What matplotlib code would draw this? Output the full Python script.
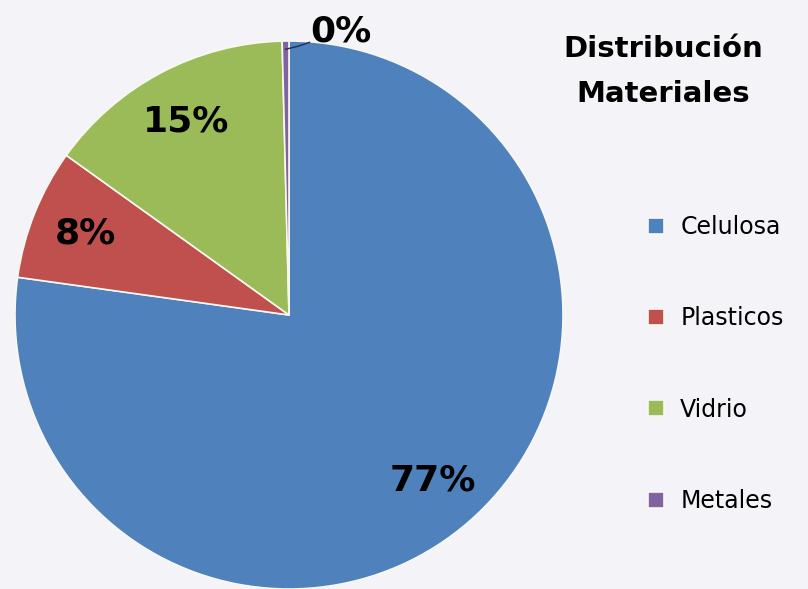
import matplotlib
matplotlib.use("Agg")
import matplotlib.pyplot as plt
import numpy as np

categories = ["Celulosa", "Plasticos", "Vidrio", "Metales"]
values = [77.2, 7.7, 14.7, 0.4]
colors = ["#4F81BD", "#C0504D", "#9BBB59", "#8064A2"]
title = "Distribución\nMateriales"

bg = "#F4F4F8"
fig = plt.figure(figsize=(8.08, 5.89), dpi=100, facecolor=bg)
ax = fig.add_axes([15/808, 0.0, 548/808, 548/589])
ax.set_facecolor(bg)

wedges, texts, autotexts = ax.pie(
    values, colors=colors, startangle=90, counterclock=False,
    autopct=lambda p: f"{p:.0f}%", pctdistance=0.8, radius=1.0,
    wedgeprops=dict(edgecolor="#F8F8F0", linewidth=1.2),
    textprops=dict(fontsize=26, fontweight="bold", color="black",
                   family=["DejaVu Sans"]))
ax.set_xlim(-1, 1)
ax.set_ylim(-1, 1)
ax.set_aspect("equal")
ax.axis("off")

# small slice label with leader line
w = wedges[3]
ang = np.deg2rad((w.theta1 + w.theta2) / 2)
x0, y0 = np.cos(ang) * 0.97, np.sin(ang) * 0.97
autotexts[3].set_position((0.19, 1.035))
autotexts[3].set_ha("center")
autotexts[3].set_va("center")
autotexts[3].set_clip_on(False)
ax.plot([x0, 0.03, 0.075], [y0, 0.98, 0.995], color="#1F2F4F", lw=1.0,
        clip_on=False)

fig.text(0.821, 0.879, title, ha="center", va="center", fontsize=21,
         fontweight="bold", linespacing=1.75, family=["DejaVu Sans"])

leg = fig.legend(wedges, categories, loc="center left",
                 bbox_to_anchor=(0.776, 0.382), frameon=False,
                 fontsize=17, handlelength=0.65, handleheight=0.65,
                 labelspacing=2.85, handletextpad=0.7)
for t in leg.get_texts():
    t.set_family(["DejaVu Sans"])

fig.savefig("out.png", dpi=100, facecolor=bg)
